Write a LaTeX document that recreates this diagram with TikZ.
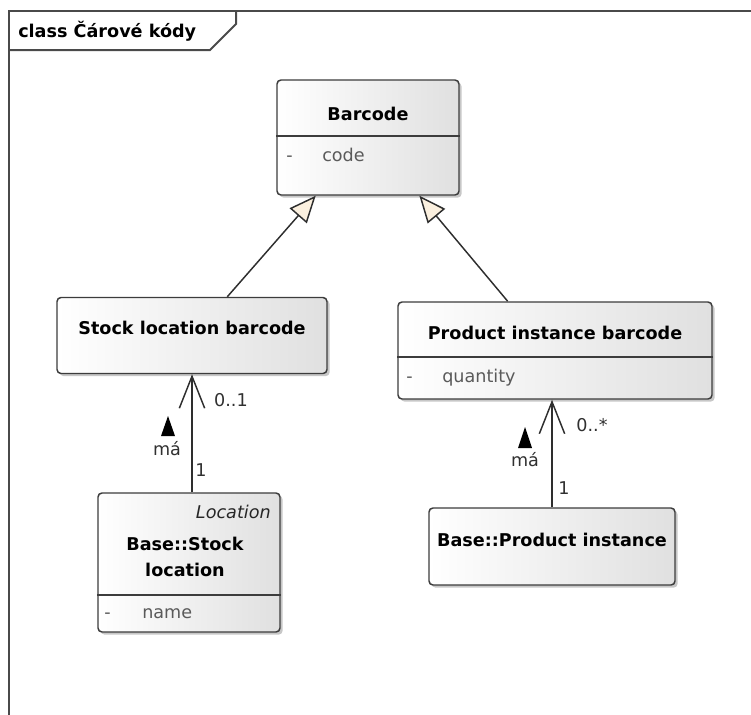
\documentclass[tikz,border=0pt]{standalone}
\usepackage{fontspec}
\setmainfont{DejaVu Sans}
\usetikzlibrary{arrows.meta,calc,shadows}

\definecolor{umlborder}{HTML}{3C3C3C}
\definecolor{umlright}{HTML}{E0E0E0}
\definecolor{genfill}{HTML}{FBF0DF}
\definecolor{attrtext}{HTML}{5A5A5A}
\definecolor{multtext}{HTML}{303030}
\definecolor{linkline}{HTML}{2E2E2E}
\definecolor{frameline}{HTML}{4A4A4A}

\tikzset{
  classbox/.style={draw=umlborder, line width=1.1pt, rounded corners=3pt,
    left color=white, right color=umlright, inner sep=0pt,
    drop shadow={shadow xshift=2pt, shadow yshift=-2pt, fill=black, opacity=0.22}},
  divider/.style={draw=umlborder, line width=1.1pt},
  classname/.style={font=\bfseries\fontsize{13.2pt}{19.5pt}\selectfont, text=black,
    inner sep=0pt, align=center},
  stereo/.style={font=\itshape\fontsize{13.2pt}{16pt}\selectfont, text=black!85,
    inner sep=0pt, anchor=east},
  attr/.style={font=\fontsize{13.2pt}{16pt}\selectfont, text=attrtext,
    inner sep=0pt, anchor=west, text height=9.6pt, text depth=2.6pt},
  mult/.style={font=\fontsize{13.2pt}{16pt}\selectfont, text=multtext, inner sep=0pt},
  gen/.style={draw=linkline, line width=1.1pt,
    -{Triangle[length=20pt, width=17pt, fill=genfill]}},
  assoc/.style={draw=linkline, line width=1.1pt,
    -{Straight Barb[length=24pt, width=19pt]}},
  framebox/.style={draw=frameline, line width=1.5pt},
}

\begin{document}
\begin{tikzpicture}[x=0.75pt, y=-0.75pt]
  \useasboundingbox (0,0) rectangle (751,715);

  % diagram frame with its name tab
  \draw[framebox] (751,11) -- (9,11) -- (9,715);
  \draw[framebox] (9,50) -- (210,50) -- (236,24) -- (236,11);
  \node[font=\bfseries\fontsize{13.2pt}{16pt}\selectfont, anchor=west, inner sep=0pt]
    (frametitle) at (18,31) {class Čárové kódy};

  % Barcode
  \node[classbox, minimum width=182*0.75pt, minimum height=115*0.75pt]
    (barcode) at (368,137.5) {};
  \coordinate (barcodeDiv) at (0,136);
  \draw[divider] (barcode.west |- barcodeDiv) -- (barcode.east |- barcodeDiv);
  \node[classname] (barcodeName) at (368,114) {Barcode};
  \node[attr] (barcodeVis) at (286,157) {-};
  \node[attr] (barcodeAttr) at (322,157) {code};

  % Stock location barcode
  \node[classbox, minimum width=270*0.75pt, minimum height=76*0.75pt]
    (slb) at (192,335.5) {};
  \node[classname] (slbName) at (192,328) {Stock location barcode};

  % Product instance barcode
  \node[classbox, minimum width=314*0.75pt, minimum height=97*0.75pt]
    (pib) at (555,350.5) {};
  \coordinate (pibDiv) at (0,357);
  \draw[divider] (pib.west |- pibDiv) -- (pib.east |- pibDiv);
  \node[classname] (pibName) at (555,333) {Product instance barcode};
  \node[attr] (pibVis) at (406,378) {-};
  \node[attr] (pibAttr) at (442,378) {quantity};

  % Base::Stock location
  \node[classbox, minimum width=182*0.75pt, minimum height=139*0.75pt]
    (loc) at (189,562.5) {};
  \coordinate (locDiv) at (0,595);
  \draw[divider] (loc.west |- locDiv) -- (loc.east |- locDiv);
  \node[stereo] (locStereo) at (271,512) {Location};
  \node[classname] (locName) at (185,557) {Base::Stock\\location};
  \node[attr] (locVis) at (104,614) {-};
  \node[attr] (locAttr) at (142,614) {name};

  % Base::Product instance
  \node[classbox, minimum width=246*0.75pt, minimum height=77*0.75pt]
    (bpi) at (552,546.5) {};
  \node[classname] (bpiName) at (552,540) {Base::Product instance};

  % generalizations
  \draw[gen] ($(slb.north west)!0.63!(slb.north east)$)
          -- ($(barcode.south west)!0.215!(barcode.south east)$);
  \draw[gen] ($(pib.north west)!0.35!(pib.north east)$)
          -- ($(barcode.south west)!0.78!(barcode.south east)$);

  % associations "má"
  \draw[assoc] (slb.south |- loc.north) -- (slb.south);
  \node[mult] (slbMult) at (231,400) {0..1};
  \node[mult] (locMult) at (201,470) {1};
  \fill[black] (161,436) -- (168,416) -- (175,436) -- cycle;
  \node[mult] (slbRole) at (167,449) {má};

  \draw[assoc] (bpi.north) -- (bpi.north |- pib.south);
  \node[mult] (pibMult) at (592,425) {0..*};
  \node[mult] (bpiMult) at (564,488) {1};
  \fill[black] (518,448) -- (525,427) -- (532,448) -- cycle;
  \node[mult] (pibRole) at (525,460) {má};
\end{tikzpicture}
\end{document}
